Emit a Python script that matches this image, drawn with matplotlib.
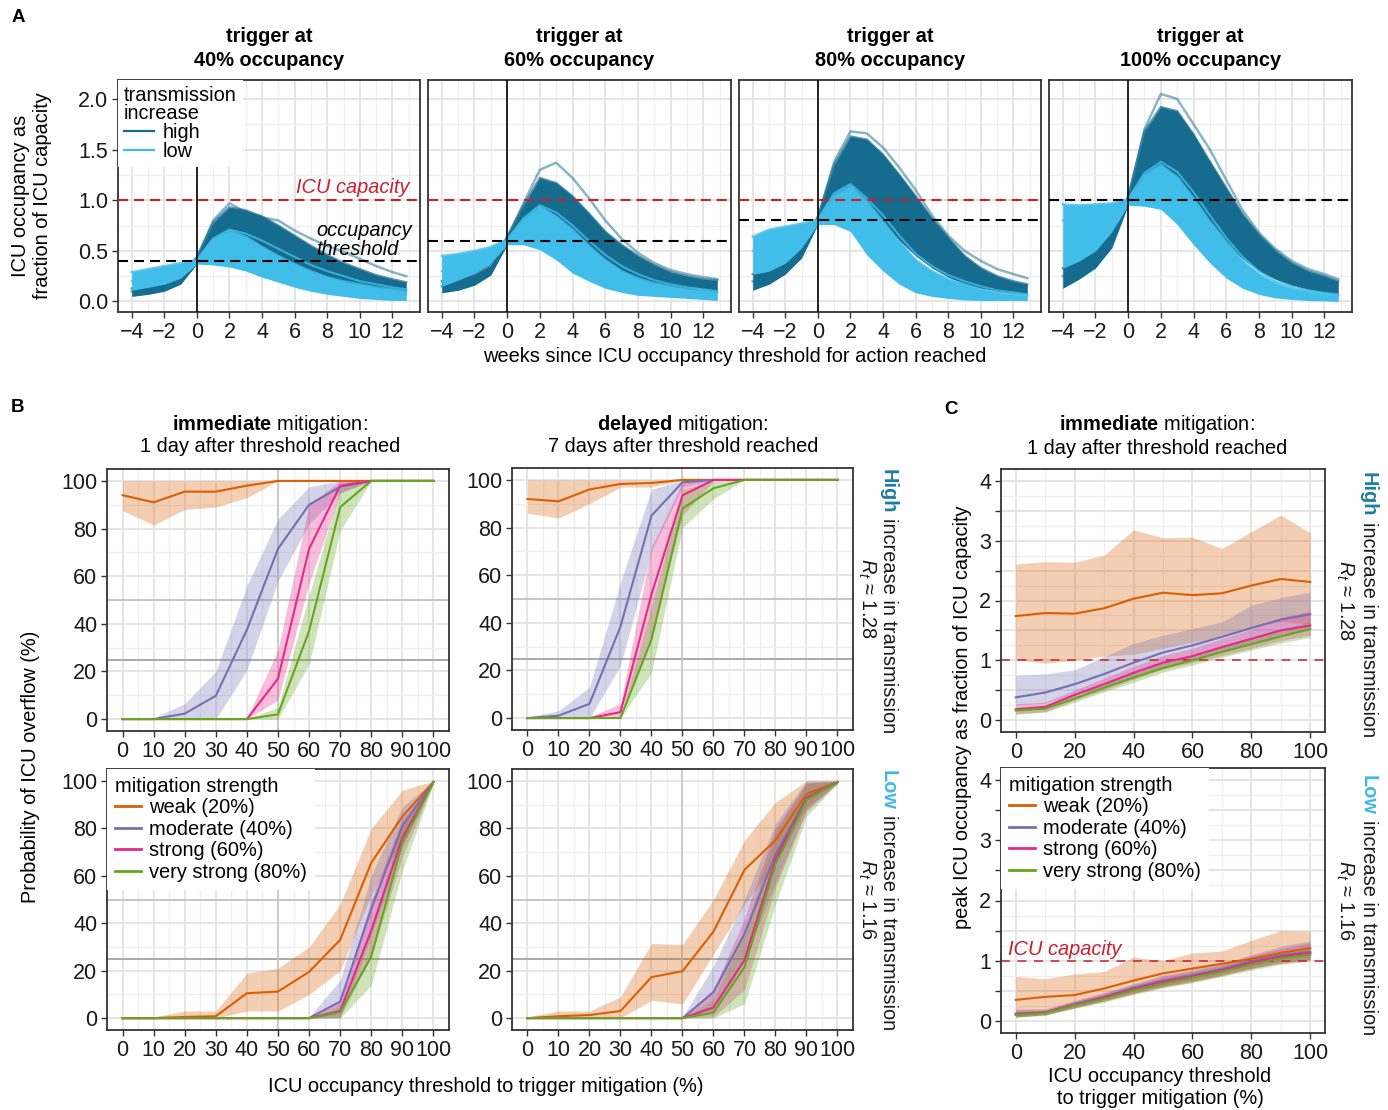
import matplotlib
matplotlib.use("Agg")
import matplotlib.pyplot as plt
from matplotlib.lines import Line2D
from matplotlib.ticker import MultipleLocator, FormatStrFormatter, FuncFormatter

plt.rcParams['font.family'] = ['Liberation Sans', 'DejaVu Sans']
plt.rcParams['mathtext.fontset'] = 'custom'
plt.rcParams['mathtext.rm'] = 'Liberation Sans'
plt.rcParams['mathtext.it'] = 'Liberation Sans:italic'
plt.rcParams['mathtext.bf'] = 'Liberation Sans:bold'

W, H = 1388, 1110

# ---------------- panel A: ICU occupancy trajectories (envelopes)
weeks = [-4, -3, -2, -1, 0, 1, 2, 3, 4, 5, 6, 7, 8, 9, 10, 11, 12, 12.85]
triggers = [40, 60, 80, 100]

high_upper_40 = [0.13, 0.15, 0.19, 0.26, 0.44, 0.78, 0.93, 0.90, 0.84, 0.75, 0.65, 0.55, 0.46, 0.38, 0.32, 0.26, 0.22, 0.19]
high_lower_40 = [0.05, 0.07, 0.10, 0.17, 0.37, 0.50, 0.55, 0.50, 0.43, 0.36, 0.29, 0.23, 0.18, 0.14, 0.11, 0.09, 0.07, 0.06]
low_upper_40 = [0.29, 0.32, 0.35, 0.38, 0.41, 0.62, 0.70, 0.64, 0.54, 0.45, 0.37, 0.30, 0.24, 0.20, 0.17, 0.14, 0.12, 0.10]
low_lower_40 = [0.11, 0.14, 0.17, 0.23, 0.37, 0.36, 0.34, 0.30, 0.24, 0.19, 0.14, 0.10, 0.07, 0.05, 0.03, 0.02, 0.01, 0.01]
high_run_40 = [0.10, 0.12, 0.16, 0.23, 0.42, 0.80, 0.97, 0.88, 0.83, 0.80, 0.70, 0.62, 0.55, 0.49, 0.42, 0.35, 0.29, 0.25]
low_run_40 = [0.20, 0.23, 0.27, 0.32, 0.41, 0.62, 0.71, 0.67, 0.60, 0.52, 0.44, 0.36, 0.30, 0.25, 0.20, 0.17, 0.14, 0.12]

high_upper_60 = [0.20, 0.22, 0.27, 0.36, 0.64, 0.95, 1.22, 1.17, 1.04, 0.87, 0.69, 0.56, 0.45, 0.36, 0.29, 0.25, 0.22, 0.21]
high_lower_60 = [0.085, 0.11, 0.16, 0.26, 0.56, 0.70, 0.78, 0.70, 0.58, 0.46, 0.36, 0.28, 0.21, 0.17, 0.14, 0.12, 0.10, 0.085]
low_upper_60 = [0.45, 0.47, 0.50, 0.54, 0.61, 0.81, 0.94, 0.84, 0.71, 0.55, 0.41, 0.30, 0.23, 0.18, 0.15, 0.12, 0.11, 0.09]
low_lower_60 = [0.15, 0.21, 0.28, 0.38, 0.56, 0.56, 0.51, 0.41, 0.28, 0.20, 0.13, 0.09, 0.06, 0.05, 0.04, 0.03, 0.02, 0.01]
high_run_60 = [0.15, 0.18, 0.23, 0.32, 0.62, 0.97, 1.30, 1.37, 1.22, 1.02, 0.80, 0.62, 0.48, 0.38, 0.31, 0.27, 0.24, 0.22]
low_run_60 = [0.30, 0.33, 0.38, 0.45, 0.61, 0.82, 0.95, 0.88, 0.75, 0.60, 0.46, 0.35, 0.27, 0.21, 0.17, 0.14, 0.12, 0.10]

high_upper_80 = [0.27, 0.30, 0.38, 0.53, 0.84, 1.35, 1.63, 1.60, 1.45, 1.25, 1.04, 0.82, 0.63, 0.45, 0.33, 0.25, 0.20, 0.17]
high_lower_80 = [0.11, 0.17, 0.27, 0.43, 0.76, 0.95, 1.00, 0.90, 0.75, 0.60, 0.45, 0.33, 0.24, 0.17, 0.13, 0.10, 0.08, 0.07]
low_upper_80 = [0.64, 0.71, 0.74, 0.77, 0.81, 1.05, 1.14, 0.99, 0.79, 0.59, 0.41, 0.30, 0.22, 0.17, 0.12, 0.09, 0.07, 0.06]
low_lower_80 = [0.27, 0.30, 0.38, 0.53, 0.76, 0.76, 0.69, 0.46, 0.30, 0.17, 0.085, 0.05, 0.03, 0.015, 0.01, 0.01, 0.01, 0.01]
high_run_80 = [0.20, 0.25, 0.33, 0.48, 0.82, 1.38, 1.68, 1.66, 1.52, 1.32, 1.10, 0.85, 0.65, 0.50, 0.40, 0.32, 0.27, 0.23]
low_run_80 = [0.50, 0.55, 0.60, 0.68, 0.81, 1.07, 1.16, 1.02, 0.85, 0.65, 0.47, 0.35, 0.26, 0.20, 0.15, 0.11, 0.09, 0.07]

high_upper_100 = [0.33, 0.40, 0.50, 0.69, 1.04, 1.68, 1.92, 1.88, 1.65, 1.38, 1.12, 0.86, 0.66, 0.50, 0.38, 0.30, 0.25, 0.20]
high_lower_100 = [0.13, 0.22, 0.33, 0.53, 0.95, 1.15, 1.20, 1.10, 0.95, 0.75, 0.57, 0.42, 0.30, 0.22, 0.16, 0.12, 0.09, 0.06]
low_upper_100 = [0.96, 0.95, 0.96, 0.97, 1.01, 1.25, 1.35, 1.23, 1.02, 0.79, 0.59, 0.40, 0.27, 0.18, 0.13, 0.10, 0.075, 0.06]
low_lower_100 = [0.33, 0.40, 0.50, 0.69, 0.95, 0.94, 0.91, 0.76, 0.56, 0.38, 0.23, 0.13, 0.07, 0.035, 0.02, 0.01, 0.005, 0.0]
high_run_100 = [0.25, 0.32, 0.43, 0.62, 1.02, 1.70, 2.05, 2.00, 1.75, 1.50, 1.20, 0.90, 0.68, 0.52, 0.40, 0.32, 0.27, 0.22]
low_run_100 = [0.80, 0.82, 0.85, 0.90, 1.01, 1.27, 1.38, 1.28, 1.08, 0.85, 0.63, 0.44, 0.30, 0.20, 0.15, 0.11, 0.085, 0.07]

# ---------------- panels B and C
thresholds = [0, 10, 20, 30, 40, 50, 60, 70, 80, 90, 100]
strengths = ['weak (20%)', 'moderate (40%)', 'strong (60%)', 'very strong (80%)']

# rows: weak, moderate, strong, very strong
b_imm_high_mid = [[94, 91, 95.5, 95.5, 98, 100, 100, 100, 100, 100, 100],
                  [0, 0, 2.3, 9.8, 37.5, 71.5, 90, 97.5, 100, 100, 100],
                  [0, 0, 0, 0, 0, 17, 71.5, 98, 100, 100, 100],
                  [0, 0, 0, 0, 0, 2, 37, 89, 100, 100, 100]]
b_imm_high_lo = [[87.5, 81.5, 88, 89, 93, 100, 100, 100, 100, 100, 100],
                 [0, 0, 0, 0, 20.5, 58, 82, 95, 100, 100, 100],
                 [0, 0, 0, 0, 0, 8, 57, 95, 100, 100, 100],
                 [0, 0, 0, 0, 0, 0, 23, 79, 100, 100, 100]]
b_imm_high_hi = [[100, 100, 100, 100, 100, 100, 100, 100, 100, 100, 100],
                 [0, 0.5, 6.5, 20, 56, 84, 97.5, 100, 100, 100, 100],
                 [0, 0, 0, 0, 0.5, 29, 90, 100, 100, 100, 100],
                 [0, 0, 0, 0, 0, 5, 52, 97, 100, 100, 100]]

b_del_high_mid = [[92, 91, 96, 98.3, 98.7, 100, 100, 100, 100, 100, 100],
                  [0, 1, 6, 38.5, 85, 99, 100, 100, 100, 100, 100],
                  [0, 0, 0, 2.5, 52, 93.5, 100, 100, 100, 100, 100],
                  [0, 0, 0, 0, 33, 88, 96.5, 100, 100, 100, 100]]
b_del_high_lo = [[86, 84, 90, 97, 97, 100, 100, 100, 100, 100, 100],
                 [0, 0, 0, 22, 70, 97, 100, 100, 100, 100, 100],
                 [0, 0, 0, 0, 35, 85, 99.5, 100, 100, 100, 100],
                 [0, 0, 0, 0, 19, 80, 92, 100, 100, 100, 100]]
b_del_high_hi = [[100, 100, 100, 100, 100, 100, 100, 100, 100, 100, 100],
                 [0.5, 3, 13, 57, 96, 100, 100, 100, 100, 100, 100],
                 [0, 0, 0.5, 6, 72, 99, 100, 100, 100, 100, 100],
                 [0, 0, 0, 0.5, 47, 96, 99.5, 100, 100, 100, 100]]

b_imm_low_mid = [[0, 0, 0.5, 0.8, 10.5, 11.2, 19.5, 33, 65.5, 85, 99.5],
                 [0, 0, 0, 0, 0, 0, 0, 7, 46, 81, 99.5],
                 [0, 0, 0, 0, 0, 0, 0, 3, 37, 76, 99.5],
                 [0, 0, 0, 0, 0, 0, 0, 2.5, 26, 74, 99.5]]
b_imm_low_lo = [[0, 0, 0, 0, 3, 3, 10, 20, 52, 75, 99],
                [0, 0, 0, 0, 0, 0, 0, 0, 35, 72, 99],
                [0, 0, 0, 0, 0, 0, 0, 0.5, 26, 68, 99],
                [0, 0, 0, 0, 0, 0, 0, 0, 14, 62, 99]]
b_imm_low_hi = [[0, 0.5, 3, 3, 19, 21, 30, 48, 80, 96, 100],
                [0, 0, 0, 0, 0, 0, 0.5, 16, 60, 89, 100],
                [0, 0, 0, 0, 0, 0, 0, 7, 50, 84, 100],
                [0, 0, 0, 0, 0, 0, 0, 5, 38, 82, 100]]

b_del_low_mid = [[0, 0.8, 1.3, 3, 17.3, 19.8, 36.5, 62.5, 75, 94.5, 99.5],
                 [0, 0, 0, 0, 0, 0, 11, 35.5, 69, 93, 99.5],
                 [0, 0, 0, 0, 0, 0, 4.5, 24.5, 67, 92.5, 99.5],
                 [0, 0, 0, 0, 0, 0, 2.3, 21.5, 65, 92, 99.5]]
b_del_low_lo = [[0, 0, 0, 0, 7.5, 6, 27, 48, 65, 89, 99],
                [0, 0, 0, 0, 0, 0, 3, 24, 57, 88, 99],
                [0, 0, 0, 0, 0, 0, 0.5, 12, 55, 87, 99],
                [0, 0, 0, 0, 0, 0, 0, 6, 48, 85, 99]]
b_del_low_hi = [[0.5, 3, 3, 9, 31.5, 31, 50, 75, 91, 100, 100],
                [0, 0, 0, 0, 0, 0.5, 22, 50, 82, 100, 100],
                [0, 0, 0, 0, 0, 0, 12, 42, 80, 99, 100],
                [0, 0, 0, 0, 0, 0, 8, 36, 78, 99, 100]]

c_high_mid = [[1.74, 1.79, 1.78, 1.87, 2.03, 2.13, 2.09, 2.12, 2.25, 2.36, 2.31],
              [0.38, 0.46, 0.60, 0.77, 0.96, 1.13, 1.25, 1.39, 1.54, 1.68, 1.77],
              [0.18, 0.22, 0.42, 0.60, 0.79, 0.96, 1.07, 1.22, 1.36, 1.50, 1.58],
              [0.16, 0.19, 0.36, 0.54, 0.71, 0.87, 1.00, 1.14, 1.27, 1.40, 1.52]]
c_high_lo = [[1.01, 0.95, 1.00, 1.07, 1.10, 1.20, 1.30, 1.40, 1.55, 1.65, 1.60],
             [0.25, 0.28, 0.42, 0.56, 0.72, 0.90, 1.02, 1.15, 1.30, 1.43, 1.52],
             [0.10, 0.14, 0.33, 0.50, 0.68, 0.85, 0.96, 1.08, 1.20, 1.33, 1.42],
             [0.10, 0.13, 0.30, 0.47, 0.63, 0.80, 0.92, 1.05, 1.17, 1.29, 1.38]]
c_high_hi = [[2.61, 2.65, 2.64, 2.76, 3.18, 3.05, 3.06, 2.87, 3.15, 3.43, 3.13],
             [0.75, 0.77, 0.84, 1.06, 1.28, 1.42, 1.53, 1.64, 1.92, 2.05, 2.14],
             [0.27, 0.30, 0.50, 0.70, 0.90, 1.08, 1.20, 1.36, 1.52, 1.72, 1.82],
             [0.22, 0.25, 0.43, 0.62, 0.80, 0.96, 1.09, 1.24, 1.38, 1.52, 1.65]]

c_low_mid = [[0.35, 0.40, 0.43, 0.54, 0.67, 0.79, 0.87, 0.95, 1.03, 1.13, 1.21],
             [0.12, 0.14, 0.28, 0.40, 0.55, 0.67, 0.76, 0.86, 0.99, 1.09, 1.15],
             [0.11, 0.14, 0.27, 0.39, 0.53, 0.65, 0.74, 0.84, 0.97, 1.07, 1.13],
             [0.10, 0.13, 0.26, 0.37, 0.51, 0.62, 0.72, 0.82, 0.94, 1.04, 1.10]]
c_low_lo = [[0.06, 0.11, 0.22, 0.33, 0.45, 0.56, 0.64, 0.75, 0.87, 0.95, 1.00],
            [0.07, 0.10, 0.22, 0.34, 0.47, 0.58, 0.67, 0.77, 0.88, 0.98, 1.03],
            [0.07, 0.10, 0.22, 0.33, 0.46, 0.57, 0.66, 0.76, 0.87, 0.97, 1.02],
            [0.06, 0.09, 0.21, 0.31, 0.44, 0.55, 0.64, 0.74, 0.84, 0.94, 1.00]]
c_low_hi = [[0.74, 0.70, 0.78, 0.82, 1.06, 1.00, 1.13, 1.16, 1.34, 1.50, 1.49],
            [0.20, 0.20, 0.34, 0.47, 0.62, 0.76, 0.85, 0.96, 1.10, 1.24, 1.33],
            [0.18, 0.19, 0.33, 0.46, 0.60, 0.74, 0.83, 0.93, 1.08, 1.20, 1.30],
            [0.15, 0.17, 0.31, 0.43, 0.58, 0.70, 0.80, 0.90, 1.04, 1.15, 1.22]]

DARK = '#166c8e'
LIGHT = '#41bde9'
RED = '#c8202f'
STRENGTH_COLORS = ['#d95f02', '#7570b3', '#e7298a', '#66a61e']
HIGH_TXT = '#1f7ca3'
LOW_TXT = '#41b8e6'
FS = 14.4
TICK_FS = 15.5

fig = plt.figure(figsize=(W / 100, H / 100), dpi=100)


def px(x, y):
    return x / W, 1 - y / H


def add_ax(l, t, r, b):
    return fig.add_axes([l / W, 1 - b / H, (r - l) / W, (b - t) / H])


def style(ax, xmaj, xmin, ymaj, ymin):
    ax.xaxis.set_major_locator(MultipleLocator(xmaj))
    ax.xaxis.set_minor_locator(MultipleLocator(xmin))
    ax.yaxis.set_major_locator(MultipleLocator(ymaj))
    ax.yaxis.set_minor_locator(MultipleLocator(ymin))
    ax.grid(which='major', color='#e3e3e3', lw=1.3)
    ax.grid(which='minor', color='#eeeeee', lw=0.9)
    ax.set_axisbelow(True)
    ax.tick_params(which='minor', length=0)
    ax.tick_params(which='major', length=4, width=1, color='#333333',
                   labelsize=TICK_FS, labelcolor='#1a1a1a', pad=3)
    for s in ax.spines.values():
        s.set_color('#333333')
        s.set_linewidth(1.3)


# ---------------- panel A
a_boxes = [(118, 420), (428, 731), (739, 1041), (1049, 1352)]
a_data = [(high_lower_40, high_upper_40, low_lower_40, low_upper_40, high_run_40, low_run_40),
          (high_lower_60, high_upper_60, low_lower_60, low_upper_60, high_run_60, low_run_60),
          (high_lower_80, high_upper_80, low_lower_80, low_upper_80, high_run_80, low_run_80),
          (high_lower_100, high_upper_100, low_lower_100, low_upper_100, high_run_100, low_run_100)]

for i, ((l, r), trig, d) in enumerate(zip(a_boxes, triggers, a_data)):
    hl, hu, ll, lu, hrun, lrun = d
    ax = add_ax(l, 80, r, 312)
    style(ax, 2, 1, 0.5, 0.25)
    ax.set_xlim(-4.84, 13.69)
    ax.set_ylim(-0.104, 2.187)
    ax.fill_between(weeks, hl, hu, color=DARK, lw=0, zorder=2)
    ax.plot(weeks, hu, color=DARK, lw=1.6, alpha=0.7, zorder=2)
    ax.plot(weeks, hrun, color=DARK, lw=1.8, alpha=0.5, zorder=2.1)
    ax.fill_between(weeks, ll, lu, color=LIGHT, lw=0, zorder=3)
    ax.plot(weeks, lu, color=LIGHT, lw=1.6, alpha=0.8, zorder=3)
    ax.plot(weeks, lrun, color=LIGHT, lw=1.5, alpha=0.8, zorder=3.1)
    ax.axhline(1.0, color=RED, lw=1.5, dashes=(4.8, 2.9), zorder=4)
    ax.axhline(trig / 100, color='black', lw=1.5, dashes=(4.8, 2.9), zorder=4)
    ax.axvline(0, color='black', lw=1.2, zorder=4)
    ax.yaxis.set_major_formatter(FormatStrFormatter('%.1f'))
    if i > 0:
        ax.tick_params(axis='y', left=False, labelleft=False)
    else:
        ax.text(13.05, 1.07, 'ICU capacity', color=RED, style='italic', fontsize=FS,
                ha='right', va='baseline', zorder=4)
        ax.text(7.3, 0.65, 'occupancy', style='italic', fontsize=FS, ha='left', va='baseline', zorder=4)
        ax.text(7.3, 0.46, 'threshold', style='italic', fontsize=FS, ha='left', va='baseline', zorder=4)
        leg = ax.legend([Line2D([], [], color=DARK, lw=1.6), Line2D([], [], color=LIGHT, lw=1.6)],
                        ['high', 'low'], title='transmission\nincrease', loc='upper left',
                        alignment='left', frameon=True, facecolor='white', edgecolor='none',
                        framealpha=1, fancybox=False, borderaxespad=0.0, borderpad=0.3,
                        handlelength=1.5, handletextpad=0.45, labelspacing=0.0,
                        fontsize=FS, title_fontsize=FS)
        leg.get_title().set_linespacing(0.95)
    cx = (l + r) / 2
    fig.text(*px(cx, 37), 'trigger at', ha='center', va='center', fontsize=FS, weight='bold')
    fig.text(*px(cx, 60), f'{trig}% occupancy', ha='center', va='center', fontsize=FS, weight='bold')

fig.text(*px(32, 196), 'ICU occupancy as\nfraction of ICU capacity', rotation=90,
         ha='center', va='center', multialignment='center', fontsize=FS)
fig.text(*px(735, 356), 'weeks since ICU occupancy threshold for action reached',
         ha='center', va='center', fontsize=FS)


# ---------------- panels B / C helpers
def draw_strength(ax, mid, lo, hi):
    for k in range(4):
        ax.fill_between(thresholds, lo[k], hi[k], color=STRENGTH_COLORS[k], alpha=0.3, lw=0, zorder=2)
    for k in range(4):
        ax.plot(thresholds, mid[k], color=STRENGTH_COLORS[k], lw=1.5, zorder=3)


def strength_legend(ax):
    handles = [Line2D([], [], color=c, lw=2) for c in STRENGTH_COLORS]
    ax.legend(handles, strengths, title='mitigation strength', loc='upper left',
              alignment='left', frameon=True, facecolor='white', edgecolor='none',
              framealpha=1, fancybox=False, borderaxespad=0.0, borderpad=0.4,
              handlelength=1.3, handletextpad=0.4, labelspacing=0.12,
              fontsize=FS, title_fontsize=FS)


renderer = fig.canvas.get_renderer()


def strip(x_base, y_top, word, color, rt_x, rt_label, ax_top, ax_bot):
    t1 = fig.text(*px(x_base, y_top), word, color=color, weight='bold', rotation=-90,
                  rotation_mode='anchor', ha='left', va='baseline', fontsize=FS)
    bb = t1.get_window_extent(renderer)
    fig.text(x_base / W, (bb.y0 - 5) / H, 'increase in transmission', rotation=-90,
             rotation_mode='anchor', ha='left', va='baseline', fontsize=FS, color='#1a1a1a')
    fig.text(*px(rt_x, (ax_top + ax_bot) / 2), r'$R_t$ ≈ ' + rt_label, rotation=-90,
             rotation_mode='anchor', ha='center', va='baseline', fontsize=FS, color='#1a1a1a')


# ---------------- panel B
b_boxes = [((107, 469, 449, 731), b_imm_high_mid, b_imm_high_lo, b_imm_high_hi),
           ((512, 468, 853, 730), b_del_high_mid, b_del_high_lo, b_del_high_hi),
           ((107, 769, 449, 1030), b_imm_low_mid, b_imm_low_lo, b_imm_low_hi),
           ((512, 769, 853, 1030), b_del_low_mid, b_del_low_lo, b_del_low_hi)]
for j, (box, mid, lo, hi) in enumerate(b_boxes):
    ax = add_ax(*box)
    style(ax, 10, 5, 20, 10)
    ax.set_xlim(-5, 105)
    ax.set_ylim(-5, 105)
    ax.axhline(25, color='#a3a3a3', lw=1.3, zorder=1)
    ax.axhline(50, color='#c2c2c2', lw=1.3, zorder=1)
    ax.axvline(50, color='#c6c6c6', lw=1.2, zorder=1)
    draw_strength(ax, mid, lo, hi)
    if j == 2:
        strength_legend(ax)

fig.text(*px(270, 425), r'$\bf{immediate}$ mitigation:', ha='center', va='center', fontsize=FS)
fig.text(*px(270, 447), '1 day after threshold reached', ha='center', va='center', fontsize=FS)
fig.text(*px(683, 425), r'$\bf{delayed}$ mitigation:', ha='center', va='center', fontsize=FS)
fig.text(*px(683, 447), '7 days after threshold reached', ha='center', va='center', fontsize=FS)
fig.text(*px(31, 767), 'Probability of ICU overflow (%)', rotation=90, ha='center', va='center', fontsize=FS)
fig.text(*px(486, 1087), 'ICU occupancy threshold to trigger mitigation (%)', ha='center', va='center', fontsize=FS)
strip(883, 469, 'High', HIGH_TXT, 861, '1.28', 468, 730)
strip(883, 770, 'Low', LOW_TXT, 861, '1.16', 769, 1030)

# ---------------- panel C
c_boxes = [((1001, 469, 1325, 732), c_high_mid, c_high_lo, c_high_hi),
           ((1001, 768, 1325, 1033), c_low_mid, c_low_lo, c_low_hi)]
for j, (box, mid, lo, hi) in enumerate(c_boxes):
    ax = add_ax(*box)
    style(ax, 20, 10, 0.5, 0.25)
    ax.set_xlim(-5, 105)
    ax.set_ylim(-0.2, 4.2)
    ax.yaxis.set_major_formatter(FuncFormatter(
        lambda v, p: f'{int(round(v))}' if abs(v - round(v)) < 1e-6 else ''))
    ax.axhline(1.0, color=RED, lw=1.1, dashes=(5.8, 5), zorder=2.5)
    draw_strength(ax, mid, lo, hi)
    if j == 1:
        strength_legend(ax)
        ax.text(-2.5, 1.1, 'ICU capacity', color=RED, style='italic', fontsize=FS,
                ha='left', va='baseline', zorder=4)

fig.text(*px(1157, 425), r'$\bf{immediate}$ mitigation:', ha='center', va='center', fontsize=FS)
fig.text(*px(1157, 449), '1 day after threshold reached', ha='center', va='center', fontsize=FS)
fig.text(*px(963, 717), 'peak ICU occupancy as fraction of ICU capacity', rotation=90,
         ha='center', va='center', fontsize=FS)
fig.text(*px(1160, 1088), 'ICU occupancy threshold\nto trigger mitigation (%)',
         ha='center', va='center', multialignment='center', fontsize=FS)
strip(1363, 472, 'High', HIGH_TXT, 1339, '1.28', 469, 732)
strip(1363, 775, 'Low', LOW_TXT, 1339, '1.16', 768, 1033)

# panel letters
fig.text(*px(18, 17), 'A', ha='center', va='center', fontsize=13.5, weight='bold')
fig.text(*px(18, 408), 'B', ha='center', va='center', fontsize=13.5, weight='bold')
fig.text(*px(951, 410), 'C', ha='center', va='center', fontsize=13.5, weight='bold')

fig.savefig('out.png', dpi=100)
